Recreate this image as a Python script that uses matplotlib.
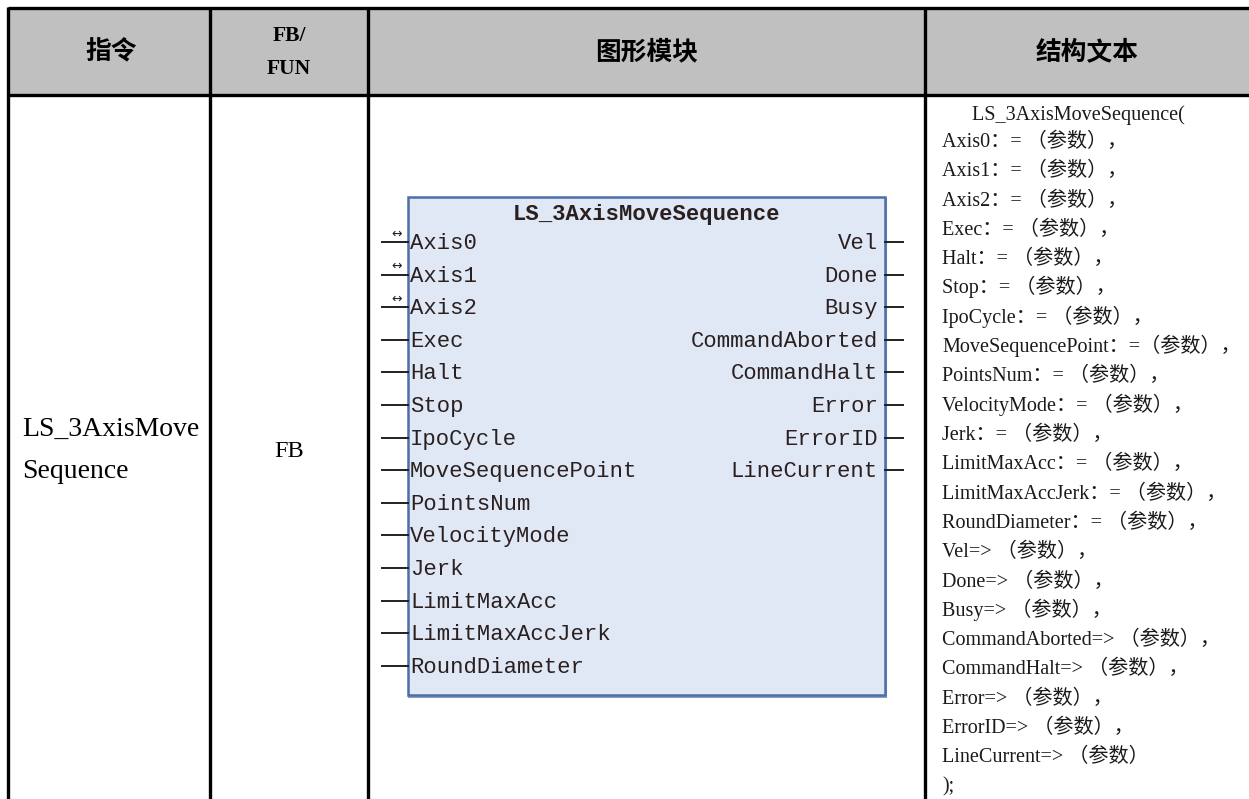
import matplotlib
matplotlib.use("Agg")
import matplotlib.pyplot as plt
from matplotlib.patches import Rectangle

# ---------------- data ----------------
headers = ["指令", "FB/\nFUN", "图形模块", "结构文本"]
instr_lines = ["LS_3AxisMove", "Sequence"]
kind = "FB"
block_title = "LS_3AxisMoveSequence"
inout_pins = ["Axis0", "Axis1", "Axis2"]
inputs = ["Axis0", "Axis1", "Axis2", "Exec", "Halt", "Stop", "IpoCycle",
          "MoveSequencePoint", "PointsNum", "VelocityMode", "Jerk",
          "LimitMaxAcc", "LimitMaxAccJerk", "RoundDiameter"]
outputs = ["Vel", "Done", "Busy", "CommandAborted", "CommandHalt",
           "Error", "ErrorID", "LineCurrent"]
st_lines = [
    "      LS_3AxisMoveSequence(",
    "Axis0：= （参数），",
    "Axis1：= （参数），",
    "Axis2：= （参数），",
    "Exec：= （参数），",
    "Halt：= （参数），",
    "Stop：= （参数），",
    "IpoCycle：= （参数），",
    "MoveSequencePoint：=（参数），",
    "PointsNum：= （参数），",
    "VelocityMode：= （参数），",
    "Jerk：= （参数），",
    "LimitMaxAcc：= （参数），",
    "LimitMaxAccJerk：= （参数），",
    "RoundDiameter：= （参数），",
    "Vel=> （参数），",
    "Done=> （参数），",
    "Busy=> （参数），",
    "CommandAborted=> （参数），",
    "CommandHalt=> （参数），",
    "Error=> （参数），",
    "ErrorID=> （参数），",
    "LineCurrent=> （参数）",
    ");",
]

# ---------------- layout ----------------
W, H = 1249, 799
fig = plt.figure(figsize=(W / 100, H / 100), dpi=100)
ax = fig.add_axes([0, 0, 1, 1])
ax.set_xlim(0, W)
ax.set_ylim(H, 0)
ax.axis("off")

col_x = [8, 210, 368, 925, 1249]
top, hdr_bot = 8, 95

# header background
ax.add_patch(Rectangle((col_x[0], top), col_x[-1] - col_x[0], hdr_bot - top,
                       facecolor="#c0c0c0", edgecolor="none", zorder=0))
lw = 2.4
ax.plot([col_x[0], col_x[-1]], [top, top], color="black", lw=lw,
        solid_capstyle="butt")
ax.plot([col_x[0], col_x[-1]], [hdr_bot, hdr_bot], color="black", lw=lw,
        solid_capstyle="butt")
for x in col_x[:-1]:
    ax.plot([x, x], [top - 1, H], color="black", lw=lw, solid_capstyle="butt")

cjk = ["Noto Sans CJK SC", "DejaVu Sans"]
serif_cjk = ["Liberation Serif", "Noto Sans CJK SC"]

centers = [(col_x[i] + col_x[i + 1]) / 2 for i in range(4)]
centers[0] = 111
centers[3] = 1087
ax.text(centers[0], 52, headers[0], ha="center", va="center", fontsize=18.5,
        fontweight="bold", family=cjk)
fb, fun = headers[1].split("\n")
ax.text(centers[1], 36, fb, ha="center", va="center", fontsize=15.5,
        fontweight="bold", family=["Liberation Serif"])
ax.text(centers[1], 69, fun, ha="center", va="center", fontsize=15.5,
        fontweight="bold", family=["Liberation Serif"])
ax.text(centers[2], 52, headers[2], ha="center", va="center", fontsize=18.5,
        fontweight="bold", family=cjk)
ax.text(centers[3], 52, headers[3], ha="center", va="center", fontsize=18.5,
        fontweight="bold", family=cjk)

# first column / second column
ax.text(22, 436, instr_lines[0], ha="left", va="baseline", fontsize=20,
        family=["Liberation Serif"])
ax.text(22, 478, instr_lines[1], ha="left", va="baseline", fontsize=20,
        family=["Liberation Serif"])
ax.text(centers[1], 457, kind, ha="center", va="baseline", fontsize=17.5,
        family=["Liberation Serif"])

# function block
bx0, bx1, by0, by1 = 408, 885, 197, 695
ax.add_patch(Rectangle((bx0 + 1.5, by0 + 1.5), bx1 - bx0, by1 - by0,
                       facecolor="none", edgecolor="#8aa0c8", lw=1.5, zorder=1))
ax.add_patch(Rectangle((bx0, by0), bx1 - bx0, by1 - by0, facecolor="#e0e7f5",
                       edgecolor="#4d6ea6", lw=1.8, zorder=2))
mono = ["Liberation Mono"]
txtc = "#2b2020"
ax.text((bx0 + bx1) / 2, 220, block_title, ha="center", va="baseline",
        fontsize=16, fontweight="bold", family=mono, color=txtc, zorder=3)
row0, step = 242, 32.6
for i, name in enumerate(inputs):
    y = row0 + i * step
    ax.plot([382, bx0], [y, y], color="#202020", lw=1.4, zorder=3)
    ax.text(bx0 + 2, y + 7, name, ha="left", va="baseline", fontsize=16,
            family=mono, color=txtc, zorder=3)
    if name in inout_pins:
        ax.text(397, y - 8, "↔", ha="center", va="center", fontsize=9,
                family=["DejaVu Sans"], color="#202020", zorder=3)
for i, name in enumerate(outputs):
    y = row0 + i * step
    ax.plot([bx1, 903], [y, y], color="#202020", lw=1.4, zorder=3)
    ax.text(bx1 - 7, y + 7, name, ha="right", va="baseline", fontsize=16,
            family=mono, color=txtc, zorder=3)

# structured text
st_x = 942
ys = [113] + [140 + i * 29.3 for i in range(len(st_lines) - 1)]
for y, line in zip(ys, st_lines):
    ax.text(st_x, y + 7, line, ha="left", va="baseline", fontsize=14.5,
            family=serif_cjk, color="#1a1a1a")

fig.savefig("out.png", dpi=100)
